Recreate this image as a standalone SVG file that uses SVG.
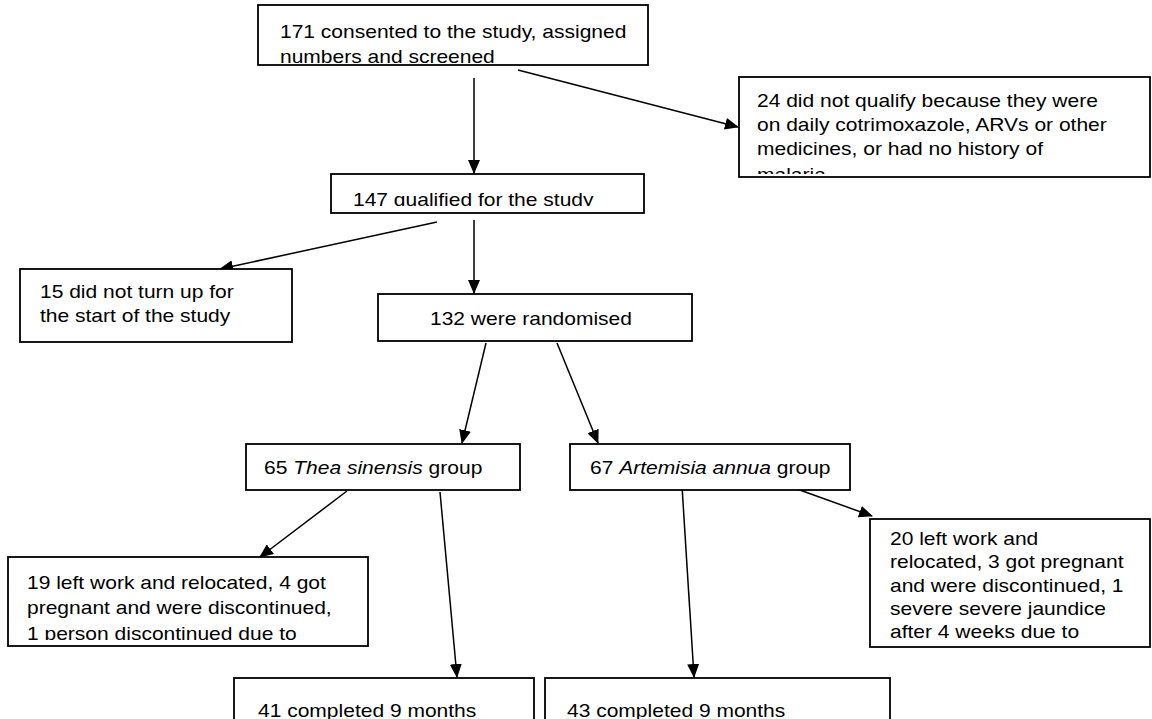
<svg xmlns="http://www.w3.org/2000/svg" width="1152" height="719" viewBox="0 0 1152 719">
<style>
.box{fill:#fff;stroke:#000;stroke-width:1.8}
.t{font-family:"Liberation Sans",Arial,sans-serif;font-size:18.6px;fill:#000}
.c{stroke:#000;stroke-width:1.5;fill:none;marker-end:url(#ah)}
</style>
<defs>
<marker id="ah" markerUnits="userSpaceOnUse" markerWidth="14" markerHeight="12" refX="13" refY="6" orient="auto">
<path d="M0,0 L14,6 L0,12 z" fill="#000"/>
</marker>
<clipPath id="c1"><rect x="259" y="6" width="388" height="57"/></clipPath>
<clipPath id="c2"><rect x="740" y="78" width="409" height="96"/></clipPath>
<clipPath id="c3"><rect x="332" y="175" width="311" height="31"/></clipPath>
<clipPath id="c9"><rect x="9" y="558" width="358" height="82"/></clipPath>
</defs>
<rect width="1152" height="719" fill="#fff"/>
<g id="connectors">
<line class="c" x1="474" y1="78" x2="474" y2="173"/>
<line class="c" x1="518" y1="70" x2="738" y2="127"/>
<line class="c" x1="437" y1="222" x2="220" y2="269"/>
<line class="c" x1="474" y1="220" x2="474" y2="293"/>
<line class="c" x1="486" y1="343" x2="462" y2="443"/>
<line class="c" x1="557" y1="343" x2="598" y2="443"/>
<line class="c" x1="347" y1="491" x2="260" y2="557"/>
<line class="c" x1="440" y1="492" x2="457" y2="677"/>
<line class="c" x1="682" y1="486" x2="694" y2="677"/>
<line class="c" x1="797" y1="489" x2="872" y2="516"/>
</g>
<g id="n1">
<rect class="box" x="258" y="5" width="390" height="60"/>
<g clip-path="url(#c1)">
<text class="t" transform="translate(280,38) scale(1.13,1)">171 consented to the study, assigned</text>
<text class="t" transform="translate(280,62.5) scale(1.13,1)">numbers and screened</text>
</g>
</g>
<g id="n2">
<rect class="box" x="739" y="77" width="411" height="100"/>
<g clip-path="url(#c2)">
<text class="t" transform="translate(757,107) scale(1.13,1)">24 did not qualify because they were</text>
<text class="t" transform="translate(757,131) scale(1.13,1)">on daily cotrimoxazole, ARVs or other</text>
<text class="t" transform="translate(757,155) scale(1.13,1)">medicines, or had no history of</text>
<text class="t" transform="translate(757,181) scale(1.13,1)">malaria</text>
</g>
</g>
<g id="n3">
<rect class="box" x="331" y="174" width="313" height="39"/>
<g clip-path="url(#c3)">
<text class="t" transform="translate(353,206) scale(1.13,1)">147 qualified for the study</text>
</g>
</g>
<g id="n4">
<rect class="box" x="20" y="269" width="272" height="73"/>
<text class="t" transform="translate(40,298) scale(1.13,1)">15 did not turn up for</text>
<text class="t" transform="translate(40,322) scale(1.13,1)">the start of the study</text>
</g>
<g id="n5">
<rect class="box" x="378" y="294" width="314" height="47"/>
<text class="t" transform="translate(430,325) scale(1.13,1)">132 were randomised</text>
</g>
<g id="n6">
<rect class="box" x="246" y="444" width="274" height="46"/>
<text class="t" transform="translate(264,474) scale(1.13,1)">65 <tspan font-style="italic">Thea sinensis</tspan> group</text>
</g>
<g id="n7">
<rect class="box" x="570" y="444" width="280" height="46"/>
<text class="t" transform="translate(590,474) scale(1.13,1)">67 <tspan font-style="italic">Artemisia annua</tspan> group</text>
</g>
<g id="n8">
<rect class="box" x="870" y="519" width="280" height="128"/>
<text class="t" transform="translate(890,545) scale(1.13,1)">20 left work and</text>
<text class="t" transform="translate(890,568.3) scale(1.13,1)">relocated, 3 got pregnant</text>
<text class="t" transform="translate(890,591.5) scale(1.13,1)">and were discontinued, 1</text>
<text class="t" transform="translate(890,614.8) scale(1.13,1)">severe severe jaundice</text>
<text class="t" transform="translate(890,638) scale(1.13,1)">after 4 weeks due to</text>
</g>
<g id="n9">
<rect class="box" x="8" y="557" width="360" height="89"/>
<g clip-path="url(#c9)">
<text class="t" transform="translate(27,589) scale(1.13,1)">19 left work and relocated, 4 got</text>
<text class="t" transform="translate(27,614) scale(1.13,1)">pregnant and were discontinued,</text>
<text class="t" transform="translate(27,640) scale(1.13,1)">1 person discontinued due to</text>
</g>
</g>
<g id="n10">
<rect class="box" x="234" y="678" width="300" height="60"/>
<text class="t" transform="translate(258,717) scale(1.13,1)">41 completed 9 months</text>
</g>
<g id="n11">
<rect class="box" x="545" y="678" width="345" height="60"/>
<text class="t" transform="translate(567,717) scale(1.13,1)">43 completed 9 months</text>
</g>
</svg>
